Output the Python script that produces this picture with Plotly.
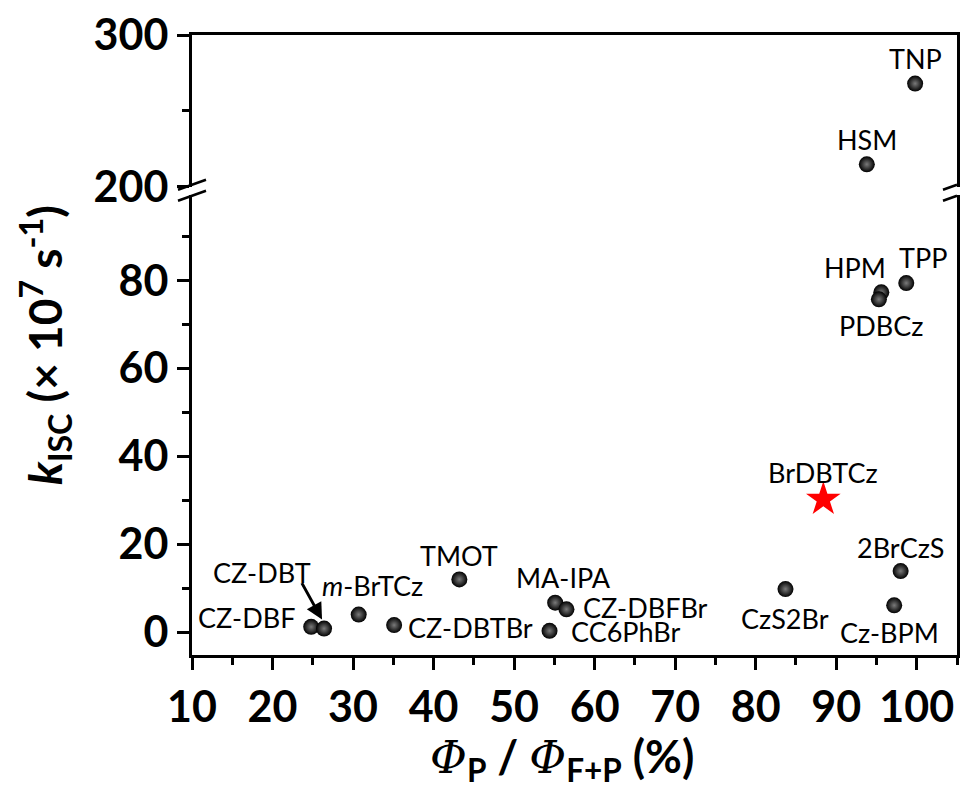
import plotly.graph_objects as go

# ---- data ----
names = ["TNP", "HSM", "TPP", "HPM", "PDBCz", "2BrCzS", "Cz-BPM", "CzS2Br",
         "CZ-DBF", "CZ-DBT", "m-BrTCz", "CZ-DBTBr", "TMOT", "MA-IPA",
         "CZ-DBFBr", "CC6PhBr"]
phi = [99.8, 93.8, 98.7, 95.6, 95.3, 98.0, 97.2, 83.7,
       24.8, 26.4, 30.7, 35.1, 43.2, 55.1, 56.5, 54.4]
kisc = [268.0, 214.8, 79.4, 77.3, 75.7, 13.9, 6.1, 9.8,
        1.2, 0.8, 4.0, 1.6, 12.0, 6.7, 5.2, 0.3]
star_name = ["BrDBTCz"]
star_phi = [88.4]
star_kisc = [30.2]

x_ticks = [10, 20, 30, 40, 50, 60, 70, 80, 90, 100]
y_low_ticks = [0, 20, 40, 60, 80]
y_high_ticks = [200, 300]

# label placement (pixel offsets: dx, dy up, anchor)
label_pos = {
    "TNP": (0, 25, "center"), "HSM": (0, 25, "center"), "TPP": (17, 26, "center"),
    "HPM": (-26, 25, "center"), "PDBCz": (2, -26, "center"), "BrDBTCz": (0, 27, "center"),
    "2BrCzS": (0, 24, "center"), "Cz-BPM": (-5, -27, "center"), "CzS2Br": (0, -29, "center"),
    "CZ-DBFBr": (15, 2, "left"), "CC6PhBr": (19, -1, "left"), "MA-IPA": (8, 25, "center"),
    "TMOT": (0, 24, "center"), "m-BrTCz": (14, 29, "center"), "CZ-DBTBr": (12, -2, "left"),
    "CZ-DBF": (-14, 9, "right"), "CZ-DBT": (-62, 56, "center"),
}

FONT = "Lato"
split = 150
hi = [i for i, v in enumerate(kisc) if v > split]
lo = [i for i, v in enumerate(kisc) if v <= split]

marker = dict(size=16, color="#000000", gradient=dict(type="radial", color="#7a7a7a"),
              line=dict(width=0))

fig = go.Figure()
fig.add_trace(go.Scatter(x=[phi[i] for i in lo], y=[kisc[i] for i in lo], mode="markers",
                         marker=marker, xaxis="x", yaxis="y", showlegend=False))
fig.add_trace(go.Scatter(x=[phi[i] for i in hi], y=[kisc[i] for i in hi], mode="markers",
                         marker=marker, xaxis="x2", yaxis="y2", showlegend=False))
fig.add_trace(go.Scatter(x=star_phi, y=star_kisc, mode="markers",
                         marker=dict(symbol="star", size=26, color="#ff0000", line=dict(width=0)),
                         xaxis="x", yaxis="y", showlegend=False))

annotations = []
def add_label(name, x, y, high):
    dx, dy, anc = label_pos[name]
    txt = "<i>m</i>-BrTCz" if name == "m-BrTCz" else name
    annotations.append(dict(x=x, y=y, xref="x2" if high else "x", yref="y2" if high else "y",
                            text=txt, showarrow=False, xshift=dx, yshift=dy, xanchor=anc,
                            yanchor="middle", font=dict(family=FONT, size=27, color="black")))

for i in range(len(names)):
    add_label(names[i], phi[i], kisc[i], kisc[i] > split)
add_label(star_name[0], star_phi[0], star_kisc[0], False)

# arrow pointing to CZ-DBT
j = names.index("CZ-DBT")
annotations.append(dict(x=phi[j], y=kisc[j], xref="x", yref="y", text="", showarrow=True,
                        xshift=-2, yshift=9, ax=-21, ay=-38, arrowhead=2, arrowsize=1.1,
                        arrowwidth=3, arrowcolor="black"))

# axis titles
serif = "<span style=\"font-family:'DejaVu Serif';font-weight:normal\"><i>Φ</i></span>"
annotations.append(dict(xref="paper", yref="paper", x=0.484, y=-0.168, xanchor="center",
                        yanchor="middle", showarrow=False,
                        text="<b>" + serif + "<sub>P</sub> / " + serif + "<sub>F+P</sub> (%)</b>",
                        font=dict(family=FONT, size=45, color="black")))
annotations.append(dict(xref="paper", yref="paper", x=-0.192, y=0.5, xanchor="center",
                        yanchor="middle", showarrow=False, textangle=-90,
                        text="<b><i>k</i><sub>ISC</sub> (× 10<sup>7</sup> s<sup>-1</sup>)</b>",
                        font=dict(family=FONT, size=46, color="black")))

tickfont = dict(family=FONT, size=43, color="black", weight="bold")
common_axis = dict(showline=True, linewidth=3, linecolor="black", showgrid=False,
                   zeroline=False, ticks="outside", ticklen=12, tickwidth=2.5,
                   tickcolor="black", tickfont=tickfont, ticklabeloverflow="allow")

lo_dom = [0, 0.7424]
hi_dom = [0.7552, 1]

# the page body adds an 8px margin on every side: 952+16 = 968, 780+16 = 796
fig.update_layout(
    width=952, height=780,
    margin=dict(l=184, r=0, t=26, b=133),
    paper_bgcolor="white", plot_bgcolor="white",
    xaxis=dict(range=[10, 105], domain=[0, 1], anchor="y", tickvals=x_ticks,
               minor=dict(ticks="outside", ticklen=7, tickwidth=2.5, tickcolor="black", dtick=5, tick0=10),
               **common_axis),
    xaxis2=dict(range=[10, 105], domain=[0, 1], anchor="y2", side="top", matches="x",
                showline=True, linewidth=3, linecolor="black", showgrid=False, zeroline=False,
                showticklabels=False, ticks=""),
    yaxis=dict(range=[-5.2, 99.5], domain=lo_dom, anchor="x", tickvals=y_low_ticks, mirror=True,
               minor=dict(ticks="outside", ticklen=7, tickwidth=2.5, tickcolor="black",
                          tickvals=[10, 30, 50, 70, 90]),
               **common_axis),
    yaxis2=dict(range=[200, 300], domain=hi_dom, anchor="x2", tickvals=y_high_ticks, mirror=True,
                minor=dict(ticks="outside", ticklen=7, tickwidth=2.5, tickcolor="black",
                           tickvals=[250]),
                **common_axis),
    annotations=annotations,
)

# axis break marks (right-hand pair stops at the page edge)
ybreak = 0.7488
for xp, xa, xb in ((0, -14, 14), (1, -14, 0)):
    for (y0, y1) in ((1, 11), (-10, 0)):
        yb = y0 + (y1 - y0) * (xb + 14) / 28.0
        fig.add_shape(type="line", xref="paper", yref="paper", xsizemode="pixel", ysizemode="pixel",
                      xanchor=xp, yanchor=ybreak, x0=xa, x1=xb, y0=y0, y1=yb,
                      line=dict(color="black", width=2.5))

fig.write_html("out.html")
